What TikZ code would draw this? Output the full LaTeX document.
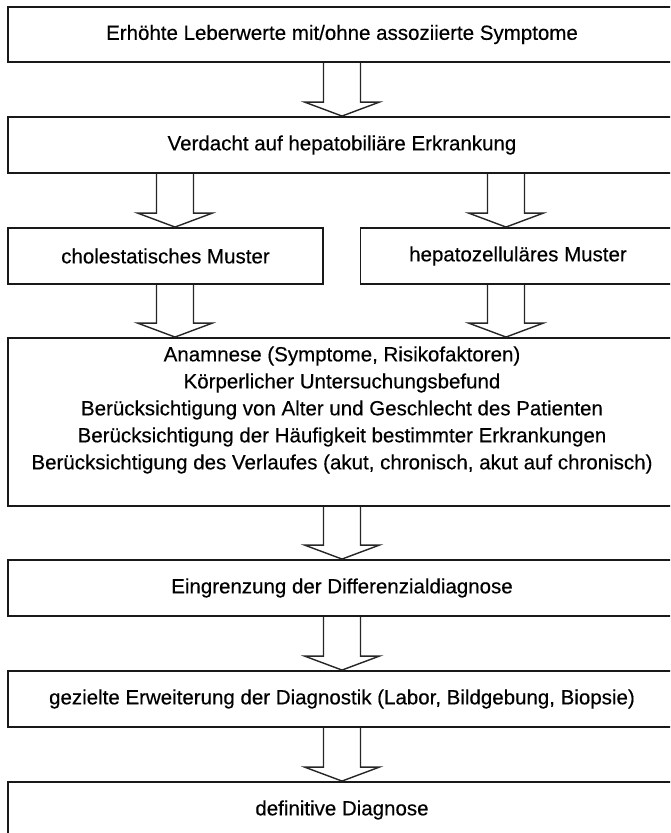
\documentclass[tikz,border=0pt]{standalone}
\usepackage{fontspec}
\setmainfont{Liberation Sans}
\newfontfamily\figfont{Liberation Sans}[FakeBold=0.35]
\newcommand\bigarrow[2]{\draw[barrow] ([xshift=-18.5pt]#1) -- ([xshift=-18.5pt,yshift=14pt]#2) -- ([xshift=-37.5pt,yshift=14pt]#2) -- (#2) -- ([xshift=37.5pt,yshift=14pt]#2) -- ([xshift=18.5pt,yshift=14pt]#2) -- ([xshift=18.5pt]#1);}
\begin{document}
\begin{tikzpicture}[x=1pt,y=-1pt,
  box/.style={draw=black!90, line width=1.9pt, rectangle, inner sep=0pt, text=black,
    font=\figfont\fontsize{20.5}{27}\selectfont, minimum height=56pt},
  wide/.style={box, minimum width=668pt},
  half/.style={box, minimum width=315pt},
  txt/.style={align=center, text=black, font=\figfont\fontsize{20.5}{27}\selectfont, inner sep=0pt},
  barrow/.style={draw=black!85, line width=1.4pt, line join=miter}]
\useasboundingbox (0,0) rectangle (670,833);
\clip (0,0) rectangle (670,833);
\fill[white] (0,0) rectangle (670,833);
\node[wide, minimum height=55pt] (b1) at (342,34.5) {Erhöhte Leberwerte mit/ohne assoziierte Symptome};
\node[wide] (b2) at (342,145) {Verdacht auf hepatobiliäre Erkrankung};
\node[half] (b3) at (165.5,256) {cholestatisches Muster};
\node[half] (b4) at (518,256) {hepatozelluläres Muster};
\node[wide, minimum height=168pt] (b5) at (342,422) {};
\node[txt] (t5) at (342,410) {Anamnese (Symptome, Risikofaktoren)\\Körperlicher Untersuchungsbefund\\Berücksichtigung von Alter und Geschlecht des Patienten\\Berücksichtigung der Häufigkeit bestimmter Erkrankungen\\Berücksichtigung des Verlaufes (akut, chronisch, akut auf chronisch)};
\node[wide] (b6) at (342,588) {Eingrenzung der Differenzialdiagnose};
\node[wide] (b7) at (342,699) {gezielte Erweiterung der Diagnostik (Labor, Bildgebung, Biopsie)};
\node[wide] (b8) at (342,810) {definitive Diagnose};
\coordinate (lx) at (175,0);
\coordinate (rx) at (506,0);
\coordinate (l2) at (lx |- b2.south);
\coordinate (l3) at (lx |- b3.north);
\coordinate (l3s) at (lx |- b3.south);
\coordinate (l5) at (lx |- b5.north);
\coordinate (r2) at (rx |- b2.south);
\coordinate (r4) at (rx |- b4.north);
\coordinate (r4s) at (rx |- b4.south);
\coordinate (r5) at (rx |- b5.north);
\bigarrow{b1.south}{b2.north}
\bigarrow{l2}{l3}
\bigarrow{r2}{r4}
\bigarrow{l3s}{l5}
\bigarrow{r4s}{r5}
\bigarrow{b5.south}{b6.north}
\bigarrow{b6.south}{b7.north}
\bigarrow{b7.south}{b8.north}
\end{tikzpicture}
\end{document}
